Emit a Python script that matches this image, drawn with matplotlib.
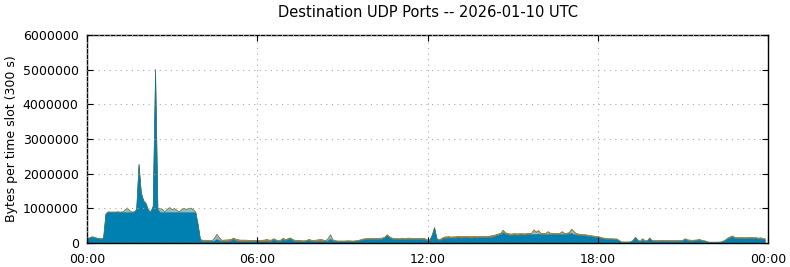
import matplotlib
matplotlib.use("Agg")
import matplotlib.pyplot as plt
import numpy as np

title = "Destination UDP Ports -- 2026-01-10 UTC"
ylabel = "Bytes per time slot (300 s)"
xtick_labels = ["00:00", "06:00", "12:00", "18:00", "00:00"]
xtick_hours = [0, 6, 12, 18, 24]
yticks = [0, 1000000, 2000000, 3000000, 4000000, 5000000, 6000000]
slot_minutes = 5

# values in thousands of bytes per 300 s slot, 12 slots per hour
blue_k = [
    110, 125, 160, 150, 125, 115, 105, 120, 820, 880, 870, 875,
    870, 880, 870, 875, 880, 870, 875, 870, 880, 940, 2250, 1420,
    1200, 1120, 930, 880, 1040, 4980, 960, 880, 880, 880, 875, 880,
    880, 875, 880, 880, 880, 875, 880, 880, 875, 880, 870, 520,
    80, 45, 40, 40, 45, 40, 60, 100, 70, 40, 35, 35,
    40, 55, 100, 60, 40, 35, 35, 30, 30, 30, 35, 40,
    35, 35, 30, 30, 40, 35, 45, 90, 60, 40, 45, 95,
    60, 90, 120, 70, 40, 35, 35, 30, 35, 50, 70, 40,
    35, 35, 40, 45, 40, 35, 60, 110, 60, 40, 30, 30,
    30, 30, 30, 35, 30, 30, 40, 50, 70, 85, 90, 95,
    95, 95, 100, 95, 100, 110, 140, 200, 140, 110, 100, 95,
    90, 100, 95, 90, 100, 95, 100, 100, 95, 95, 100, 90,
    55, 60, 200, 420, 100, 60, 90, 130, 135, 140, 135, 140,
    140, 145, 140, 140, 145, 150, 140, 140, 145, 140, 145, 150,
    145, 150, 150, 160, 170, 200, 220, 240, 300, 250, 230, 220,
    225, 230, 220, 225, 230, 225, 230, 235, 240, 250, 240, 260,
    240, 235, 230, 250, 245, 240, 235, 230, 240, 250, 240, 245,
    260, 280, 240, 230, 220, 210, 200, 200, 190, 180, 170, 160,
    150, 140, 120, 110, 100, 95, 95, 90, 90, 60, 15, 15,
    15, 15, 20, 60, 140, 60, 30, 70, 40, 40, 120, 50,
    40, 40, 35, 40, 40, 40, 45, 40, 40, 40, 40, 45,
    50, 95, 60, 50, 50, 55, 60, 80, 55, 45, 30, 12,
    10, 10, 10, 12, 15, 30, 60, 110, 140, 170, 130, 120,
    120, 125, 120, 115, 120, 125, 120, 120, 110, 115, 100, 80,
]

lightblue_k = [
    0, 0, 0, 0, 0, 0, 0, 0, 0, 0, 0, 0,
    0, 0, 0, 0, 40, 120, 40, 0, 0, 0, 0, 0,
    0, 0, 0, 0, 0, 0, 0, 100, 60, 0, 80, 120,
    60, 100, 40, 0, 60, 100, 70, 90, 110, 60, 0, 0,
    0, 0, 0, 0, 0, 0, 60, 120, 50, 0, 0, 0,
    0, 0, 0, 0, 0, 0, 0, 0, 0, 0, 0, 0,
    0, 0, 0, 0, 0, 0, 0, 0, 0, 0, 0, 0,
    0, 0, 0, 0, 0, 0, 0, 0, 0, 0, 0, 0,
    0, 0, 0, 0, 0, 0, 40, 100, 0, 0, 0, 0,
    0, 0, 0, 0, 0, 0, 0, 0, 0, 0, 0, 0,
    0, 0, 0, 0, 0, 0, 0, 0, 0, 0, 0, 0,
    0, 0, 0, 0, 0, 0, 0, 0, 0, 0, 0, 0,
    0, 0, 0, 0, 0, 0, 0, 0, 0, 0, 0, 0,
    0, 0, 0, 0, 0, 0, 0, 0, 0, 0, 0, 0,
    0, 0, 0, 0, 0, 0, 0, 0, 30, 0, 0, 0,
    0, 0, 0, 0, 0, 0, 0, 0, 0, 90, 40, 60,
    0, 0, 0, 40, 0, 0, 0, 0, 0, 40, 0, 0,
    0, 80, 50, 0, 0, 0, 0, 0, 0, 0, 0, 0,
    0, 0, 0, 0, 0, 0, 0, 0, 0, 0, 0, 0,
    0, 0, 0, 0, 0, 0, 0, 0, 0, 0, 0, 0,
    0, 0, 0, 0, 0, 0, 0, 0, 0, 0, 0, 0,
    0, 0, 0, 0, 0, 0, 0, 0, 0, 0, 0, 0,
    0, 0, 0, 0, 0, 0, 0, 0, 0, 0, 0, 0,
    0, 0, 0, 0, 0, 0, 0, 0, 0, 0, 0, 0,
]

orange_k = [
    10, 10, 10, 10, 10, 10, 10, 10, 10, 10, 10, 10,
    10, 10, 10, 10, 10, 10, 10, 10, 10, 10, 10, 10,
    10, 10, 10, 10, 10, 10, 10, 10, 10, 10, 10, 10,
    10, 10, 10, 10, 10, 10, 10, 10, 10, 10, 10, 10,
    15, 25, 30, 30, 25, 20, 20, 20, 25, 30, 40, 45,
    45, 40, 35, 40, 45, 40, 40, 45, 40, 35, 30, 25,
    25, 30, 40, 45, 55, 40, 30, 25, 20, 25, 30, 35,
    30, 25, 20, 25, 30, 35, 30, 25, 20, 20, 25, 30,
    35, 40, 45, 50, 35, 25, 20, 20, 25, 20, 20, 20,
    20, 20, 25, 20, 20, 20, 20, 20, 20, 25, 25, 25,
    25, 25, 25, 30, 30, 25, 25, 30, 30, 25, 25, 25,
    25, 30, 30, 35, 35, 30, 25, 25, 30, 30, 25, 25,
    25, 25, 20, 20, 25, 25, 30, 30, 35, 35, 30, 30,
    30, 35, 35, 40, 30, 30, 35, 40, 40, 35, 30, 30,
    30, 30, 35, 40, 35, 30, 30, 30, 30, 35, 35, 30,
    30, 30, 35, 35, 30, 30, 30, 35, 30, 30, 30, 30,
    30, 30, 35, 30, 30, 30, 35, 30, 30, 30, 30, 30,
    30, 30, 30, 30, 30, 30, 30, 30, 25, 25, 25, 25,
    25, 25, 20, 20, 20, 20, 20, 20, 20, 15, 10, 10,
    10, 10, 10, 15, 20, 20, 15, 15, 20, 20, 20, 15,
    20, 20, 25, 25, 30, 25, 25, 20, 20, 25, 25, 20,
    20, 20, 25, 25, 20, 20, 20, 20, 15, 15, 10, 8,
    8, 8, 8, 8, 10, 15, 20, 25, 25, 25, 25, 25,
    25, 25, 25, 30, 30, 25, 25, 25, 25, 25, 25, 25,
]

green_k = [
    10, 10, 10, 10, 10, 10, 10, 10, 12, 12, 12, 12,
    12, 12, 12, 12, 12, 12, 12, 12, 12, 12, 15, 15,
    12, 12, 12, 12, 12, 20, 12, 12, 12, 12, 12, 12,
    12, 12, 12, 12, 12, 12, 12, 12, 12, 12, 12, 10,
    8, 8, 8, 8, 8, 8, 8, 10, 8, 8, 8, 8,
    8, 8, 8, 8, 8, 8, 8, 8, 8, 8, 8, 8,
    8, 8, 8, 8, 8, 8, 8, 8, 8, 8, 8, 8,
    8, 8, 8, 8, 8, 8, 8, 8, 8, 8, 8, 8,
    8, 8, 8, 8, 8, 8, 8, 10, 8, 8, 8, 8,
    8, 8, 8, 8, 8, 8, 8, 8, 8, 8, 8, 8,
    8, 8, 8, 8, 8, 8, 8, 10, 8, 8, 8, 8,
    8, 8, 8, 8, 8, 8, 8, 8, 8, 8, 8, 8,
    8, 8, 8, 10, 8, 8, 8, 8, 8, 8, 8, 8,
    8, 8, 8, 8, 8, 8, 8, 8, 8, 8, 8, 8,
    8, 8, 8, 8, 8, 8, 8, 10, 10, 10, 8, 8,
    8, 8, 8, 8, 8, 8, 8, 8, 8, 10, 8, 8,
    8, 8, 8, 8, 8, 8, 8, 8, 8, 8, 8, 8,
    8, 10, 8, 8, 8, 8, 8, 8, 8, 8, 8, 8,
    8, 8, 8, 8, 8, 8, 8, 8, 8, 8, 6, 6,
    6, 6, 6, 8, 8, 8, 8, 40, 8, 8, 8, 8,
    8, 8, 8, 8, 8, 8, 8, 8, 8, 8, 8, 8,
    8, 8, 8, 8, 8, 8, 8, 8, 8, 8, 6, 6,
    6, 6, 6, 6, 6, 8, 8, 10, 10, 10, 8, 8,
    8, 8, 8, 8, 8, 8, 8, 8, 8, 8, 8, 8,
]

series = [blue_k, lightblue_k, orange_k, green_k]
fills = ["#0080b0", "#8cbcd0", "#d0701c", "#5e9430"]

hours = np.arange(len(blue_k)) * slot_minutes / 60.0
data = [np.array(s, dtype=float) * 1000.0 for s in series]

fig = plt.figure(figsize=(7.9, 2.67), dpi=100)
ax = fig.add_axes([87 / 790, 24 / 267, 681 / 790, 208 / 267])

ax.stackplot(hours, *data, colors=fills, linewidth=0)
ax.plot(hours, np.sum(data, axis=0), color="#6b7a3a", linewidth=0.5)
ax.plot(hours, data[0], color="#0a6e98", linewidth=0.4)

ax.set_xlim(0, 24)
ax.set_ylim(0, 6000000)
ax.set_xticks(xtick_hours)
ax.set_xticklabels(xtick_labels)
ax.set_yticks(yticks)
ax.set_yticklabels([str(v) for v in yticks])
ax.tick_params(direction="in", top=True, right=True, length=4, labelsize=9, width=0.8)
ax.tick_params(axis="x", pad=7)
ax.tick_params(axis="y", pad=6)
ax.grid(True, linestyle=(0, (1, 4)), color="#aaaaaa", linewidth=0.8)
ax.set_axisbelow(False)
for s in ax.spines.values():
    s.set_linewidth(1.0)
ax.set_ylabel(ylabel, fontsize=9, labelpad=3)
ax.set_title(title, fontsize=10.5, pad=13)

fig.savefig("out.png", dpi=100)
